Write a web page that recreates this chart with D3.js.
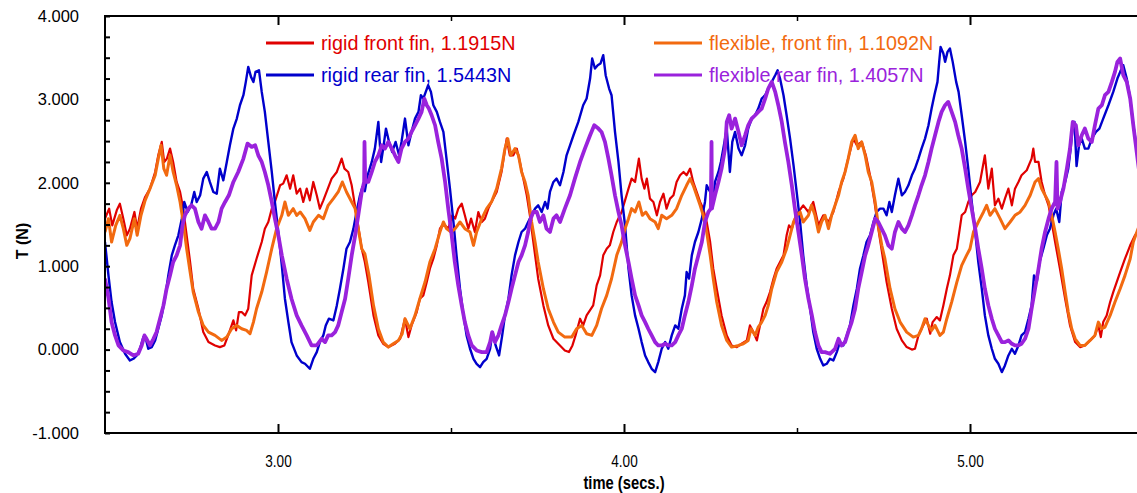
<!DOCTYPE html>
<html><head><meta charset="utf-8">
<script src="https://cdn.jsdelivr.net/npm/d3@7"></script>
<style>
html,body{margin:0;padding:0;background:#fff;}
svg{display:block;}
</style></head>
<body>
<svg id="chart" width="1137" height="493"></svg>
<script>
// ---- data (time in s, thrust in N) ----
const rigidFront = [[2.500,1.57],[2.512,1.69],[2.521,1.49],[2.534,1.67],[2.543,1.75],[2.553,1.57],[2.563,1.37],[2.572,1.45],[2.585,1.65],[2.593,1.45],[2.604,1.69],[2.616,1.83],[2.630,1.93],[2.645,2.13],[2.654,2.33],[2.664,2.49],[2.671,2.25],[2.679,2.29],[2.688,2.41],[2.697,2.25],[2.707,2.01],[2.717,1.89],[2.726,1.69],[2.736,1.37],[2.746,1.05],[2.755,0.73],[2.770,0.49],[2.784,0.21],[2.799,0.09],[2.818,0.05],[2.832,0.03],[2.845,0.05],[2.856,0.17],[2.871,0.35],[2.879,0.23],[2.887,0.45],[2.895,0.45],[2.905,0.41],[2.914,0.49],[2.924,0.89],[2.938,1.09],[2.953,1.29],[2.962,1.45],[2.972,1.53],[2.982,1.69],[2.991,1.77],[3.006,1.97],[3.015,1.99],[3.025,2.09],[3.035,1.93],[3.044,2.09],[3.054,1.87],[3.064,1.93],[3.073,1.77],[3.083,1.93],[3.092,1.79],[3.102,2.01],[3.112,1.85],[3.121,1.69],[3.131,1.79],[3.144,1.93],[3.155,2.05],[3.170,2.13],[3.184,2.29],[3.192,2.17],[3.203,2.13],[3.213,1.97],[3.227,1.61],[3.242,1.21],[3.251,1.05],[3.261,0.81],[3.276,0.41],[3.290,0.17],[3.304,0.07],[3.319,0.03],[3.338,0.07],[3.353,0.13],[3.367,0.37],[3.377,0.15],[3.386,0.29],[3.401,0.45],[3.410,0.61],[3.420,0.65],[3.430,0.81],[3.439,0.97],[3.449,1.09],[3.459,1.25],[3.468,1.45],[3.478,1.51],[3.492,1.45],[3.504,1.61],[3.512,1.57],[3.521,1.69],[3.531,1.75],[3.540,1.61],[3.550,1.45],[3.558,1.57],[3.569,1.41],[3.579,1.65],[3.589,1.53],[3.598,1.57],[3.608,1.69],[3.617,1.77],[3.632,1.89],[3.646,2.13],[3.661,2.53],[3.670,2.33],[3.680,2.33],[3.690,2.41],[3.699,2.25],[3.709,2.05],[3.719,1.85],[3.728,1.61],[3.738,1.29],[3.752,0.85],[3.767,0.53],[3.781,0.29],[3.796,0.13],[3.810,0.07],[3.829,-0.01],[3.841,-0.03],[3.851,0.05],[3.860,0.17],[3.873,0.37],[3.882,0.29],[3.892,0.41],[3.911,0.53],[3.921,0.77],[3.931,0.89],[3.940,1.13],[3.950,1.21],[3.959,1.25],[3.969,1.41],[3.979,1.53],[3.993,1.65],[4.003,1.79],[4.013,1.93],[4.022,2.05],[4.032,2.01],[4.043,2.29],[4.051,2.05],[4.059,1.93],[4.066,2.05],[4.075,1.81],[4.085,1.77],[4.095,1.61],[4.104,1.77],[4.114,1.87],[4.123,1.69],[4.133,1.81],[4.143,1.85],[4.152,2.01],[4.162,2.09],[4.172,2.13],[4.181,2.09],[4.191,2.17],[4.200,2.01],[4.210,1.89],[4.220,1.77],[4.229,1.69],[4.239,1.53],[4.249,1.29],[4.258,0.97],[4.268,0.73],[4.282,0.41],[4.297,0.17],[4.311,0.05],[4.326,0.03],[4.340,0.07],[4.355,0.11],[4.364,0.29],[4.374,0.21],[4.384,0.11],[4.393,0.29],[4.403,0.49],[4.412,0.57],[4.422,0.69],[4.432,0.85],[4.441,0.97],[4.451,1.05],[4.461,1.13],[4.470,1.37],[4.477,1.49],[4.485,1.45],[4.494,1.57],[4.504,1.65],[4.518,1.73],[4.533,1.65],[4.547,1.77],[4.562,1.49],[4.576,1.61],[4.591,1.53],[4.605,1.65],[4.620,1.89],[4.634,2.05],[4.648,2.29],[4.663,2.53],[4.673,2.45],[4.687,2.49],[4.699,2.33],[4.711,2.09],[4.724,1.77],[4.735,1.45],[4.747,1.13],[4.759,0.81],[4.774,0.49],[4.788,0.25],[4.803,0.11],[4.817,0.03],[4.832,0.00],[4.841,0.01],[4.851,0.17],[4.860,0.25],[4.870,0.33],[4.875,0.37],[4.885,0.19],[4.892,0.33],[4.904,0.39],[4.913,0.35],[4.923,0.53],[4.933,0.73],[4.942,0.89],[4.952,1.13],[4.962,1.21],[4.976,1.61],[4.986,1.65],[4.995,1.77],[5.005,1.85],[5.015,1.89],[5.029,2.01],[5.043,2.33],[5.053,1.93],[5.063,2.17],[5.072,1.73],[5.082,1.81],[5.092,1.69],[5.101,1.81],[5.111,1.93],[5.121,1.73],[5.130,1.93],[5.140,2.01],[5.149,2.09],[5.164,2.15],[5.178,2.29],[5.183,2.41],[5.188,2.25],[5.198,2.25],[5.207,2.01],[5.217,1.85],[5.227,1.73],[5.236,1.53],[5.246,1.29],[5.260,0.97],[5.275,0.61],[5.289,0.29],[5.304,0.09],[5.318,0.03],[5.332,0.05],[5.347,0.11],[5.361,0.17],[5.371,0.29],[5.378,0.15],[5.385,0.33],[5.395,0.41],[5.405,0.57],[5.414,0.69],[5.424,0.81],[5.434,0.93],[5.448,1.09],[5.463,1.25],[5.477,1.37],[5.490,1.45]];

const rigidRear = [[2.500,1.29],[2.510,0.89],[2.519,0.57],[2.529,0.33],[2.543,0.09],[2.558,-0.05],[2.572,-0.13],[2.582,-0.11],[2.592,-0.07],[2.601,0.01],[2.611,0.15],[2.618,0.13],[2.625,0.01],[2.635,0.03],[2.645,0.11],[2.654,0.25],[2.664,0.41],[2.673,0.61],[2.683,0.89],[2.693,1.13],[2.702,1.25],[2.712,1.37],[2.722,1.57],[2.729,1.77],[2.739,1.65],[2.749,1.73],[2.758,1.89],[2.765,1.77],[2.775,1.85],[2.784,2.05],[2.794,2.13],[2.803,2.01],[2.813,1.89],[2.823,1.87],[2.832,2.17],[2.842,2.03],[2.852,2.25],[2.861,2.45],[2.871,2.65],[2.881,2.77],[2.890,2.93],[2.900,3.05],[2.907,3.21],[2.914,3.39],[2.922,3.27],[2.929,3.21],[2.935,3.33],[2.945,3.35],[2.953,3.09],[2.962,2.85],[2.972,2.49],[2.982,2.13],[2.991,1.77],[3.001,1.41],[3.011,1.01],[3.020,0.61],[3.030,0.33],[3.039,0.09],[3.054,-0.07],[3.068,-0.15],[3.078,-0.17],[3.092,-0.23],[3.102,-0.11],[3.112,-0.03],[3.121,0.09],[3.131,0.17],[3.138,0.29],[3.147,0.37],[3.160,0.35],[3.170,0.53],[3.179,0.73],[3.189,0.97],[3.198,1.21],[3.208,1.29],[3.218,1.45],[3.227,1.65],[3.237,1.85],[3.244,1.95],[3.251,1.90],[3.259,2.09],[3.271,2.25],[3.280,2.41],[3.290,2.73],[3.298,2.25],[3.304,2.41],[3.312,2.65],[3.321,2.49],[3.330,2.37],[3.340,2.49],[3.350,2.33],[3.357,2.49],[3.367,2.77],[3.377,2.45],[3.386,2.61],[3.396,2.77],[3.406,2.85],[3.413,3.05],[3.420,3.01],[3.427,3.09],[3.434,3.17],[3.442,3.09],[3.449,2.93],[3.459,2.85],[3.468,2.73],[3.478,2.61],[3.487,2.29],[3.497,1.93],[3.507,1.53],[3.516,1.13],[3.526,0.73],[3.536,0.41],[3.545,0.17],[3.555,0.01],[3.565,-0.11],[3.574,-0.17],[3.584,-0.21],[3.593,-0.15],[3.603,-0.11],[3.613,0.01],[3.620,0.21],[3.629,0.05],[3.639,-0.07],[3.648,0.17],[3.656,0.41],[3.666,0.61],[3.675,0.89],[3.685,1.13],[3.695,1.29],[3.704,1.41],[3.714,1.45],[3.723,1.53],[3.733,1.61],[3.743,1.69],[3.752,1.73],[3.762,1.65],[3.772,1.77],[3.779,1.69],[3.786,1.89],[3.796,2.01],[3.805,2.05],[3.815,1.97],[3.825,2.13],[3.834,2.33],[3.844,2.45],[3.854,2.57],[3.868,2.73],[3.882,2.93],[3.892,3.01],[3.902,3.25],[3.908,3.49],[3.916,3.37],[3.924,3.41],[3.932,3.43],[3.940,3.53],[3.947,3.29],[3.957,3.13],[3.964,3.05],[3.974,2.61],[3.984,2.25],[3.993,1.85],[4.003,1.49],[4.013,0.97],[4.022,0.65],[4.032,0.41],[4.042,0.25],[4.051,0.09],[4.061,-0.07],[4.070,-0.15],[4.080,-0.23],[4.090,-0.27],[4.099,-0.15],[4.109,0.01],[4.119,0.09],[4.128,0.01],[4.138,0.17],[4.148,0.29],[4.157,0.25],[4.167,0.49],[4.176,0.65],[4.181,0.93],[4.188,0.85],[4.196,1.13],[4.205,1.29],[4.215,1.41],[4.225,1.57],[4.234,1.77],[4.239,1.97],[4.249,1.89],[4.255,1.69],[4.263,2.01],[4.273,2.13],[4.280,2.25],[4.287,2.41],[4.297,2.65],[4.306,2.13],[4.313,2.49],[4.321,2.61],[4.331,2.41],[4.340,2.33],[4.350,2.45],[4.359,2.65],[4.369,2.77],[4.379,2.81],[4.388,2.89],[4.398,3.01],[4.408,3.05],[4.417,3.13],[4.427,3.21],[4.437,3.29],[4.444,3.35],[4.451,3.25],[4.461,3.05],[4.470,2.81],[4.480,2.53],[4.490,2.21],[4.499,1.89],[4.509,1.53],[4.518,1.13],[4.528,0.77],[4.538,0.49],[4.547,0.21],[4.557,0.01],[4.567,-0.11],[4.576,-0.19],[4.586,-0.17],[4.595,-0.11],[4.605,-0.13],[4.615,-0.03],[4.624,0.09],[4.634,0.05],[4.644,0.17],[4.653,0.29],[4.663,0.53],[4.673,0.73],[4.682,0.97],[4.692,1.13],[4.701,1.29],[4.711,1.37],[4.721,1.53],[4.730,1.65],[4.740,1.69],[4.750,1.69],[4.759,1.61],[4.767,1.77],[4.774,1.65],[4.783,1.85],[4.793,2.05],[4.803,1.85],[4.812,1.89],[4.822,1.97],[4.832,2.09],[4.841,2.17],[4.851,2.29],[4.860,2.41],[4.870,2.53],[4.880,2.69],[4.889,2.89],[4.897,3.05],[4.906,3.21],[4.911,3.45],[4.915,3.63],[4.923,3.55],[4.928,3.45],[4.935,3.57],[4.942,3.61],[4.950,3.45],[4.960,3.21],[4.967,3.09],[4.976,2.81],[4.986,2.49],[4.995,2.17],[5.005,1.77],[5.015,1.41],[5.024,1.05],[5.034,0.73],[5.043,0.41],[5.053,0.17],[5.063,0.01],[5.072,-0.11],[5.082,-0.17],[5.092,-0.27],[5.101,-0.19],[5.111,-0.07],[5.121,0.01],[5.130,-0.05],[5.140,0.05],[5.149,0.17],[5.159,0.21],[5.169,0.37],[5.178,0.53],[5.185,0.89],[5.193,0.81],[5.201,1.05],[5.212,1.21],[5.222,1.37],[5.231,1.45],[5.241,1.61],[5.249,1.69],[5.258,1.53],[5.265,1.89],[5.275,2.01],[5.284,2.17],[5.291,2.41],[5.297,2.69],[5.302,2.73],[5.308,2.20],[5.315,2.45],[5.323,2.53],[5.332,2.41],[5.342,2.41],[5.352,2.53],[5.364,2.61],[5.374,2.65],[5.385,2.77],[5.400,2.93],[5.414,3.09],[5.426,3.25],[5.434,3.33],[5.443,3.41],[5.453,3.25],[5.463,3.01],[5.472,2.69],[5.490,2.20]];

const flexFront = [[2.500,1.41],[2.510,1.57],[2.519,1.29],[2.531,1.49],[2.543,1.61],[2.553,1.45],[2.563,1.25],[2.572,1.33],[2.585,1.57],[2.593,1.37],[2.604,1.61],[2.616,1.79],[2.630,1.93],[2.645,2.09],[2.654,2.29],[2.662,2.45],[2.670,2.17],[2.678,2.09],[2.688,2.33],[2.697,2.13],[2.707,1.97],[2.717,1.77],[2.726,1.53],[2.736,1.21],[2.746,0.93],[2.755,0.69],[2.770,0.45],[2.784,0.29],[2.799,0.21],[2.818,0.17],[2.837,0.11],[2.852,0.15],[2.866,0.25],[2.881,0.29],[2.895,0.25],[2.909,0.23],[2.919,0.19],[2.929,0.33],[2.938,0.49],[2.953,0.69],[2.967,0.93],[2.982,1.21],[2.996,1.45],[3.011,1.61],[3.020,1.77],[3.030,1.61],[3.044,1.69],[3.054,1.61],[3.064,1.65],[3.078,1.57],[3.092,1.43],[3.102,1.53],[3.117,1.61],[3.131,1.57],[3.145,1.73],[3.160,1.81],[3.174,1.89],[3.186,2.01],[3.198,1.89],[3.213,1.77],[3.223,1.69],[3.232,1.45],[3.242,1.21],[3.251,1.15],[3.263,0.89],[3.276,0.53],[3.290,0.25],[3.304,0.09],[3.319,0.03],[3.333,0.07],[3.348,0.11],[3.359,0.19],[3.367,0.37],[3.381,0.25],[3.396,0.41],[3.410,0.61],[3.425,0.81],[3.439,1.05],[3.454,1.21],[3.468,1.41],[3.478,1.53],[3.487,1.45],[3.500,1.41],[3.512,1.45],[3.526,1.53],[3.540,1.45],[3.555,1.41],[3.565,1.25],[3.574,1.41],[3.589,1.57],[3.603,1.69],[3.617,1.77],[3.632,1.93],[3.646,2.17],[3.656,2.41],[3.664,2.53],[3.673,2.33],[3.685,2.41],[3.695,2.33],[3.704,2.13],[3.714,2.01],[3.723,1.85],[3.733,1.53],[3.743,1.29],[3.752,1.05],[3.767,0.73],[3.781,0.49],[3.796,0.33],[3.810,0.21],[3.829,0.15],[3.849,0.15],[3.863,0.25],[3.878,0.29],[3.892,0.19],[3.907,0.17],[3.921,0.29],[3.935,0.49],[3.950,0.65],[3.964,0.85],[3.979,1.13],[3.993,1.29],[4.003,1.45],[4.013,1.57],[4.022,1.69],[4.032,1.65],[4.043,1.77],[4.053,1.61],[4.063,1.65],[4.075,1.57],[4.090,1.53],[4.099,1.45],[4.109,1.61],[4.123,1.57],[4.138,1.61],[4.152,1.69],[4.167,1.85],[4.181,1.97],[4.191,2.05],[4.200,1.97],[4.210,1.85],[4.220,1.73],[4.229,1.61],[4.239,1.41],[4.249,1.13],[4.258,0.85],[4.268,0.57],[4.282,0.29],[4.297,0.11],[4.311,0.03],[4.331,0.05],[4.345,0.07],[4.359,0.11],[4.367,0.25],[4.379,0.17],[4.388,0.27],[4.398,0.33],[4.408,0.41],[4.417,0.53],[4.427,0.73],[4.441,0.93],[4.456,1.05],[4.470,1.21],[4.480,1.37],[4.490,1.53],[4.499,1.61],[4.509,1.65],[4.518,1.53],[4.533,1.61],[4.542,1.73],[4.552,1.61],[4.562,1.41],[4.571,1.53],[4.581,1.61],[4.591,1.45],[4.600,1.61],[4.610,1.73],[4.620,1.85],[4.629,2.01],[4.639,2.13],[4.648,2.29],[4.658,2.49],[4.668,2.57],[4.677,2.41],[4.687,2.49],[4.697,2.33],[4.706,2.13],[4.716,2.01],[4.726,1.77],[4.735,1.49],[4.745,1.25],[4.754,1.09],[4.769,0.73],[4.783,0.49],[4.798,0.33],[4.817,0.21],[4.836,0.15],[4.851,0.17],[4.860,0.25],[4.870,0.37],[4.880,0.29],[4.889,0.23],[4.899,0.29],[4.913,0.17],[4.923,0.21],[4.933,0.37],[4.947,0.57],[4.962,0.81],[4.976,1.01],[4.990,1.13],[5.000,1.21],[5.010,1.41],[5.024,1.53],[5.039,1.65],[5.048,1.73],[5.058,1.61],[5.072,1.69],[5.087,1.57],[5.101,1.45],[5.116,1.53],[5.130,1.61],[5.145,1.65],[5.159,1.73],[5.174,1.85],[5.188,2.01],[5.198,2.05],[5.207,1.93],[5.217,1.85],[5.227,1.77],[5.236,1.61],[5.246,1.41],[5.255,1.21],[5.265,0.97],[5.275,0.69],[5.284,0.45],[5.294,0.25],[5.304,0.13],[5.318,0.05],[5.332,0.05],[5.347,0.11],[5.361,0.17],[5.371,0.33],[5.381,0.25],[5.390,0.27],[5.405,0.41],[5.419,0.57],[5.434,0.73],[5.448,0.89],[5.463,1.09],[5.472,1.29],[5.490,1.50]];

const flexRear = [[2.500,0.85],[2.510,0.62],[2.519,0.33],[2.529,0.17],[2.539,0.05],[2.553,-0.01],[2.567,-0.03],[2.582,-0.07],[2.596,-0.05],[2.606,0.05],[2.614,0.17],[2.620,0.13],[2.630,0.05],[2.640,0.13],[2.649,0.21],[2.659,0.37],[2.669,0.53],[2.678,0.73],[2.688,0.89],[2.697,1.05],[2.707,1.13],[2.717,1.25],[2.724,1.49],[2.731,1.61],[2.741,1.69],[2.750,1.73],[2.760,1.69],[2.770,1.53],[2.779,1.45],[2.789,1.61],[2.799,1.53],[2.808,1.45],[2.818,1.45],[2.828,1.53],[2.837,1.69],[2.847,1.77],[2.858,1.85],[2.871,2.01],[2.885,2.13],[2.900,2.29],[2.912,2.47],[2.924,2.43],[2.934,2.45],[2.943,2.33],[2.953,2.25],[2.962,2.13],[2.972,1.97],[2.982,1.77],[2.991,1.57],[3.001,1.37],[3.011,1.13],[3.025,0.85],[3.039,0.61],[3.054,0.41],[3.068,0.29],[3.083,0.17],[3.097,0.05],[3.112,0.05],[3.126,0.13],[3.136,0.09],[3.145,0.17],[3.155,0.17],[3.165,0.21],[3.174,0.29],[3.184,0.45],[3.194,0.61],[3.203,0.85],[3.213,1.13],[3.223,1.37],[3.232,1.61],[3.242,1.89],[3.249,2.01],[3.250,2.49],[3.252,2.01],[3.261,2.01],[3.271,2.13],[3.280,2.25],[3.290,2.33],[3.300,2.45],[3.309,2.41],[3.319,2.49],[3.329,2.41],[3.338,2.33],[3.348,2.25],[3.357,2.41],[3.367,2.49],[3.377,2.53],[3.386,2.61],[3.396,2.69],[3.406,2.77],[3.415,2.85],[3.423,3.01],[3.430,2.93],[3.436,2.89],[3.444,2.81],[3.454,2.69],[3.463,2.49],[3.473,2.29],[3.483,2.01],[3.492,1.69],[3.502,1.37],[3.511,1.05],[3.521,0.77],[3.531,0.53],[3.540,0.33],[3.550,0.17],[3.560,0.05],[3.574,-0.01],[3.589,-0.03],[3.603,-0.03],[3.613,0.09],[3.619,0.21],[3.627,0.09],[3.637,0.17],[3.646,0.29],[3.656,0.41],[3.666,0.57],[3.675,0.73],[3.685,0.89],[3.695,1.05],[3.704,1.13],[3.714,1.25],[3.723,1.41],[3.730,1.57],[3.738,1.65],[3.748,1.65],[3.757,1.53],[3.767,1.61],[3.776,1.45],[3.786,1.41],[3.796,1.57],[3.805,1.61],[3.815,1.53],[3.829,1.69],[3.844,1.85],[3.858,2.05],[3.873,2.25],[3.887,2.41],[3.902,2.57],[3.914,2.69],[3.926,2.65],[3.935,2.61],[3.945,2.49],[3.955,2.29],[3.964,2.09],[3.974,1.85],[3.984,1.65],[3.993,1.49],[4.003,1.25],[4.013,1.05],[4.022,0.85],[4.032,0.65],[4.042,0.53],[4.051,0.41],[4.061,0.33],[4.070,0.25],[4.080,0.17],[4.090,0.09],[4.099,0.05],[4.109,0.05],[4.119,0.07],[4.128,0.05],[4.138,0.05],[4.148,0.09],[4.157,0.17],[4.167,0.25],[4.176,0.41],[4.186,0.57],[4.196,0.77],[4.205,0.97],[4.215,1.13],[4.225,1.29],[4.234,1.53],[4.244,1.65],[4.251,1.69],[4.253,2.49],[4.254,1.69],[4.263,1.85],[4.273,2.01],[4.282,2.17],[4.292,2.41],[4.297,2.73],[4.304,2.81],[4.311,2.65],[4.321,2.77],[4.331,2.61],[4.340,2.45],[4.350,2.57],[4.359,2.69],[4.369,2.77],[4.379,2.81],[4.388,2.85],[4.398,2.89],[4.408,3.01],[4.417,3.13],[4.427,3.21],[4.437,3.09],[4.446,2.93],[4.456,2.73],[4.465,2.49],[4.475,2.25],[4.485,1.97],[4.494,1.69],[4.504,1.41],[4.514,1.13],[4.523,0.85],[4.533,0.61],[4.543,0.41],[4.552,0.21],[4.562,0.05],[4.571,-0.03],[4.581,-0.03],[4.595,-0.05],[4.610,0.01],[4.620,0.13],[4.629,0.05],[4.639,0.09],[4.648,0.21],[4.658,0.33],[4.668,0.49],[4.677,0.73],[4.687,0.93],[4.697,1.13],[4.706,1.25],[4.716,1.41],[4.726,1.57],[4.735,1.53],[4.754,1.37],[4.764,1.25],[4.774,1.21],[4.783,1.41],[4.793,1.53],[4.803,1.45],[4.812,1.41],[4.822,1.49],[4.832,1.61],[4.841,1.73],[4.851,1.85],[4.860,1.97],[4.870,2.09],[4.880,2.25],[4.889,2.41],[4.899,2.57],[4.909,2.73],[4.918,2.85],[4.928,2.93],[4.937,2.97],[4.947,2.85],[4.957,2.73],[4.966,2.57],[4.976,2.41],[4.986,2.17],[4.995,1.93],[5.005,1.69],[5.015,1.45],[5.024,1.21],[5.034,0.97],[5.043,0.73],[5.053,0.53],[5.063,0.37],[5.072,0.25],[5.082,0.17],[5.092,0.09],[5.101,0.09],[5.111,0.11],[5.121,0.07],[5.130,0.05],[5.140,0.05],[5.149,0.07],[5.159,0.13],[5.169,0.25],[5.178,0.49],[5.188,0.73],[5.198,0.97],[5.207,1.21],[5.217,1.41],[5.227,1.57],[5.236,1.69],[5.246,1.77],[5.250,2.25],[5.253,1.69],[5.260,1.77],[5.270,1.93],[5.280,2.17],[5.289,2.41],[5.297,2.73],[5.306,2.69],[5.313,2.45],[5.323,2.57],[5.332,2.65],[5.342,2.53],[5.352,2.49],[5.361,2.69],[5.371,2.89],[5.381,2.93],[5.390,3.05],[5.400,3.09],[5.410,3.21],[5.419,3.33],[5.426,3.45],[5.434,3.49],[5.443,3.29],[5.453,3.21],[5.463,3.01],[5.472,2.69],[5.490,2.10]];

const seriesNames = ["rigid front fin, 1.1915N","rigid rear fin, 1.5443N","flexible, front fin, 1.1092N","flexible rear fin, 1.4057N"];
const seriesColors = ["#e00000","#0000cc","#f26a10","#9a22dc"];
const yTicks = [-1,0,1,2,3,4];
const xTicks = [3,4,5];
const xMinorTicks = [3.5,4.5];
const xDomain = [2.5,5.5];
const yDomain = [-1,4];
const xTitle = "time (secs.)";
const yTitle = "T (N)";

// ---- drawing ----
const svg = d3.select("#chart");
const L = 105, R = 1143, T = 16, B = 433;
const x = d3.scaleLinear().domain(xDomain).range([L, R]);
const y = d3.scaleLinear().domain(yDomain).range([B, T]);

svg.append("defs").append("clipPath").attr("id","clip")
  .append("rect").attr("x",L).attr("y",T).attr("width",R-L).attr("height",B-T);

const line = d3.line().x(d=>x(d[0])).y(d=>y(d[1]));
const data = [rigidFront, rigidRear, flexFront, flexRear];
const widths = [2.2, 2.4, 3.0, 3.8];
const g = svg.append("g").attr("clip-path","url(#clip)");
data.forEach((s,i)=>{
  g.append("path").datum(s).attr("d",line)
    .attr("fill","none").attr("stroke",seriesColors[i])
    .attr("stroke-width",widths[i]).attr("stroke-linejoin","round");
});

// frame
svg.append("rect").attr("x",L).attr("y",T).attr("width",R-L).attr("height",B-T)
  .attr("fill","none").attr("stroke","#000").attr("stroke-width",2);

const yMinor = d3.range(yDomain[0], yDomain[1]+0.001, 0.25);
const fmtY = d => d3.format(".3f")(d).replace("\u2212","-");
const axL = svg.append("g").attr("transform",`translate(${L},0)`)
  .call(d3.axisLeft(y).tickValues(yMinor).tickSize(-5).tickPadding(26)
    .tickFormat(d => yTicks.includes(d) ? fmtY(d) : ""));
axL.select(".domain").remove();
axL.selectAll("line").attr("stroke","#000").attr("stroke-width",2);
axL.selectAll("text").attr("font-family","'Liberation Sans', Arial, sans-serif").attr("font-size",16.5).attr("fill","#000");

const axR = svg.append("g").attr("transform",`translate(${R},0)`)
  .call(d3.axisRight(y).tickValues(yMinor).tickSize(-5).tickFormat(""));
axR.select(".domain").remove();
axR.selectAll("line").attr("stroke","#000").attr("stroke-width",2);

const axB = svg.append("g").attr("transform",`translate(0,${B})`)
  .call(d3.axisBottom(x).tickValues(xTicks).tickSize(-9).tickPadding(22).tickFormat(d3.format(".2f")));
axB.select(".domain").remove();
axB.selectAll("line").attr("stroke","#000").attr("stroke-width",2);
axB.selectAll("text").attr("font-family","'Liberation Sans', Arial, sans-serif")
  .attr("font-size",17).attr("fill","#000").attr("transform","scale(0.8,1)");

const axBm = svg.append("g").attr("transform",`translate(0,${B})`)
  .call(d3.axisBottom(x).tickValues(xMinorTicks).tickSize(-5).tickFormat(""));
axBm.select(".domain").remove();
axBm.selectAll("line").attr("stroke","#000").attr("stroke-width",1.5);

const axT = svg.append("g").attr("transform",`translate(0,${T})`)
  .call(d3.axisTop(x).tickValues(xTicks).tickSize(-9).tickFormat(""));
axT.select(".domain").remove();
axT.selectAll("line").attr("stroke","#000").attr("stroke-width",2);
const axTm = svg.append("g").attr("transform",`translate(0,${T})`)
  .call(d3.axisTop(x).tickValues(xMinorTicks).tickSize(-5).tickFormat(""));
axTm.select(".domain").remove();
axTm.selectAll("line").attr("stroke","#000").attr("stroke-width",1.5);

// axis titles
svg.append("text").attr("transform",`translate(${x(4)},489) scale(0.82,1)`).attr("text-anchor","middle")
  .attr("font-family","'Liberation Sans', Arial, sans-serif")
  .attr("font-weight","bold").attr("font-size",18).text(xTitle);
svg.append("text").attr("transform","translate(28,241) rotate(-90)").attr("text-anchor","middle")
  .attr("font-family","'Liberation Sans', Arial, sans-serif")
  .attr("font-weight","bold").attr("font-size",16).text(yTitle);

// legend
const legendPos = [[266,43],[266,75],[654,43],[654,75]];
seriesNames.forEach((name,i)=>{
  const [lx,ly] = legendPos[i];
  svg.append("line").attr("x1",lx).attr("x2",lx+48).attr("y1",ly).attr("y2",ly)
    .attr("stroke",seriesColors[i]).attr("stroke-width",3);
  svg.append("text").attr("x",lx+55).attr("y",ly+7)
    .attr("font-family","'Liberation Sans', Arial, sans-serif").attr("font-size",19.8)
    .attr("fill",seriesColors[i]).text(name);
});
</script>
</body></html>
